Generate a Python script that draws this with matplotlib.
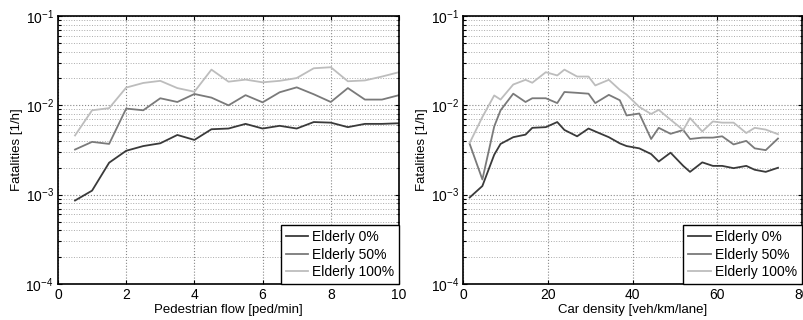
import numpy as np
import matplotlib
matplotlib.use("Agg")
import matplotlib.pyplot as plt
from matplotlib.ticker import LogLocator, NullFormatter

plt.rcParams['font.family'] = ['Liberation Sans', 'DejaVu Sans']
plt.rcParams['mathtext.fontset'] = 'custom'
plt.rcParams['mathtext.rm'] = 'Liberation Sans'
plt.rcParams['mathtext.it'] = 'Liberation Sans:italic'
plt.rcParams['font.size'] = 9.5

# left panel: pedestrian flow
ped_flow = [0.5, 1, 1.5, 2, 2.5, 3, 3.5, 4, 4.5, 5,
            5.5, 6, 6.5, 7, 7.5, 8, 8.5, 9, 9.5, 10]
ped_eld0 = [8.6e-4, 1.11e-3, 2.28e-3, 3.1e-3, 3.5e-3, 3.76e-3, 4.66e-3, 4.1e-3, 5.4e-3, 5.5e-3,
            6.2e-3, 5.5e-3, 5.9e-3, 5.5e-3, 6.5e-3, 6.4e-3, 5.7e-3, 6.2e-3, 6.2e-3, 6.3e-3]
ped_eld50 = [3.2e-3, 3.9e-3, 3.7e-3, 9.2e-3, 8.8e-3, 1.2e-2, 1.09e-2, 1.34e-2, 1.22e-2, 1.0e-2,
             1.3e-2, 1.08e-2, 1.4e-2, 1.59e-2, 1.33e-2, 1.09e-2, 1.56e-2, 1.16e-2, 1.16e-2, 1.3e-2]
ped_eld100 = [4.6e-3, 8.8e-3, 9.3e-3, 1.58e-2, 1.78e-2, 1.88e-2, 1.56e-2, 1.42e-2, 2.51e-2, 1.84e-2,
              1.94e-2, 1.81e-2, 1.88e-2, 2.02e-2, 2.6e-2, 2.67e-2, 1.86e-2, 1.9e-2, 2.1e-2, 2.35e-2]

# right panel: car density
car_dens = [1.5, 4.5, 7.3, 8.8, 11.8, 14.7, 16.3, 19.5, 22.2, 23.9,
            26.9, 29.6, 31.2, 34.4, 37.0, 38.6, 41.6, 44.4, 46.2, 49.0,
            52.0, 53.6, 56.5, 59.0, 61.2, 63.9, 66.9, 68.9, 71.5, 74.4]
car_eld0 = [9.3e-4, 1.25e-3, 2.8e-3, 3.7e-3, 4.4e-3, 4.7e-3, 5.6e-3, 5.7e-3, 6.5e-3, 5.3e-3,
            4.5e-3, 5.5e-3, 5.1e-3, 4.4e-3, 3.75e-3, 3.5e-3, 3.3e-3, 2.85e-3, 2.35e-3, 2.95e-3,
            2.1e-3, 1.8e-3, 2.3e-3, 2.1e-3, 2.1e-3, 1.98e-3, 2.1e-3, 1.9e-3, 1.8e-3, 2.0e-3]
car_eld50 = [3.7e-3, 1.48e-3, 5.8e-3, 8.8e-3, 1.35e-2, 1.09e-2, 1.2e-2, 1.2e-2, 1.06e-2, 1.41e-2,
             1.38e-2, 1.35e-2, 1.06e-2, 1.31e-2, 1.14e-2, 7.7e-3, 8.1e-3, 4.2e-3, 5.6e-3, 4.8e-3,
             5.3e-3, 4.2e-3, 4.35e-3, 4.35e-3, 4.5e-3, 3.65e-3, 4.0e-3, 3.3e-3, 3.15e-3, 4.25e-3]
car_eld100 = [3.8e-3, 7.4e-3, 1.29e-2, 1.16e-2, 1.71e-2, 1.93e-2, 1.79e-2, 2.35e-2, 2.16e-2, 2.51e-2,
              2.1e-2, 2.1e-2, 1.67e-2, 1.93e-2, 1.49e-2, 1.32e-2, 9.6e-3, 8.0e-3, 8.9e-3, 6.9e-3,
              5.3e-3, 7.2e-3, 5.1e-3, 6.6e-3, 6.4e-3, 6.4e-3, 4.9e-3, 5.6e-3, 5.35e-3, 4.75e-3]

labels = ['Elderly 0%', 'Elderly 50%', 'Elderly 100%']
colors = ['#3a3a3a', '#7a7a7a', '#bdbdbd']

fig = plt.figure(figsize=(8.04, 3.2), dpi=100)
ax1 = fig.add_axes([0.0721, 0.1125, 0.4242, 0.8375])
ax2 = fig.add_axes([0.5763, 0.1125, 0.4208, 0.8375])


def style(ax, x, ys, xlim, xticks, xlabel):
    for y, c, lab in zip(ys, colors, labels):
        ax.plot(x, y, color=c, lw=1.3, label=lab)
    ax.set_yscale('log')
    ax.set_ylim(1e-4, 1e-1)
    ax.set_xlim(*xlim)
    ax.set_xticks(xticks)
    ax.yaxis.set_major_locator(LogLocator(base=10, numticks=10))
    ax.yaxis.set_minor_locator(LogLocator(base=10, subs=np.arange(2, 10), numticks=20))
    ax.yaxis.set_minor_formatter(NullFormatter())
    ax.grid(True, which='major', ls=':', color='#888888', lw=0.8)
    ax.grid(True, which='minor', axis='y', ls=':', color='#aaaaaa', lw=0.7)
    ax.tick_params(which='both', direction='in', top=True, right=True, length=3, width=0.8, pad=3)
    ax.tick_params(which='minor', length=1.8)
    ax.tick_params(labelsize=10)
    for s in ax.spines.values():
        s.set_linewidth(1.2)
    ax.set_xlabel(xlabel, labelpad=1)
    ax.set_ylabel('Fatalities [1/h]', labelpad=2)
    leg = ax.legend(loc='lower right', borderaxespad=0, fancybox=False, framealpha=1,
                    edgecolor='black', handlelength=1.6, handletextpad=0.3,
                    labelspacing=0.25, borderpad=0.35, fontsize=10)
    leg.get_frame().set_linewidth(1.0)


style(ax1, ped_flow, [ped_eld0, ped_eld50, ped_eld100], (0, 10), range(0, 11, 2),
      'Pedestrian flow [ped/min]')
style(ax2, car_dens, [car_eld0, car_eld50, car_eld100], (0, 80), range(0, 81, 20),
      'Car density [veh/km/lane]')

fig.savefig('out.png', dpi=100)
